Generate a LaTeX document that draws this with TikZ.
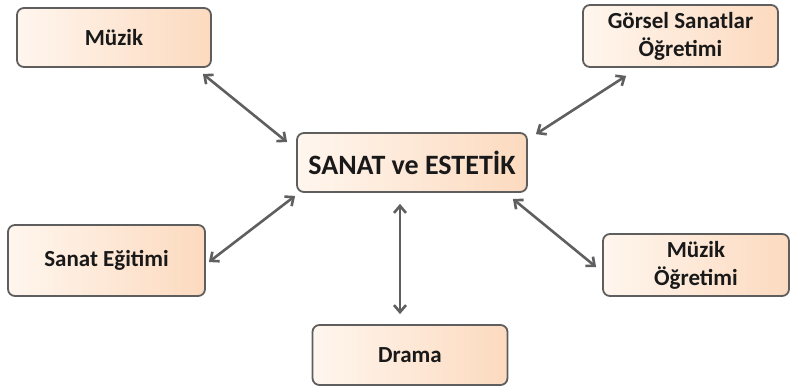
\documentclass[tikz,border=0pt]{standalone}
\usepackage{fontspec}
\setmainfont{Carlito}
\usetikzlibrary{arrows.meta}
\definecolor{peachL}{HTML}{FFF6EE}
\definecolor{peachR}{HTML}{FCDABF}
\definecolor{boxline}{HTML}{5E5E5E}
\definecolor{arrowgray}{HTML}{5F5F5F}
\begin{document}
\begin{tikzpicture}[x=1pt,y=-1pt,
  box/.style={draw=boxline,line width=1.8pt,rounded corners=7pt,
    left color=peachL,right color=peachR,align=center,
    font=\fontsize{23}{28}\selectfont\bfseries,text=black!90,inner sep=0pt},
  link/.style={arrowgray,line width=2.6pt,{Straight Barb[length=7pt,width=12pt]}-{Straight Barb[length=7pt,width=12pt]}}]
  \useasboundingbox (0,0) rectangle (790,390);
  % central box
  \node[box,minimum width=230pt,minimum height=59pt,
    font=\fontsize{28}{34}\selectfont\bfseries] (sanat) at (412,162.5) {SANAT ve ESTET\.{I}K};
  % outer boxes
  \node[box,minimum width=194pt,minimum height=59pt] (muzik) at (114,37.5) {Müzik};
  \node[box,minimum width=195pt,minimum height=62pt] (gorsel) at (680.5,36) {Görsel Sanatlar\\Öğretimi};
  \node[box,minimum width=197pt,minimum height=71pt] (egitim) at (106.5,260.5) {Sanat Eğitimi};
  \node[box,minimum width=186pt,minimum height=62pt] (muzikog) at (696,265) {Müzik\\Öğretimi};
  \node[box,minimum width=195pt,minimum height=60pt] (drama) at (410,355) {Drama};
  % arrows
  \draw[link] ([shift={(-9,6)}]muzik.south east) -- ([shift={(-9,10)}]sanat.north west);
  \draw[link] ([shift={(8,2)}]sanat.north east) -- ([shift={(44,8)}]gorsel.south west);
  \draw[link] ([shift={(-1,3)}]sanat.south west) -- ([shift={(3,1.5)}]egitim.east);
  \draw[link] ([shift={(-12,11)}]sanat.south) -- ([shift={(-10,-10)}]drama.north);
  \draw[link] ([shift={(-15,6)}]sanat.south east) -- ([shift={(-6,2)}]muzikog.west);
\end{tikzpicture}
\end{document}
